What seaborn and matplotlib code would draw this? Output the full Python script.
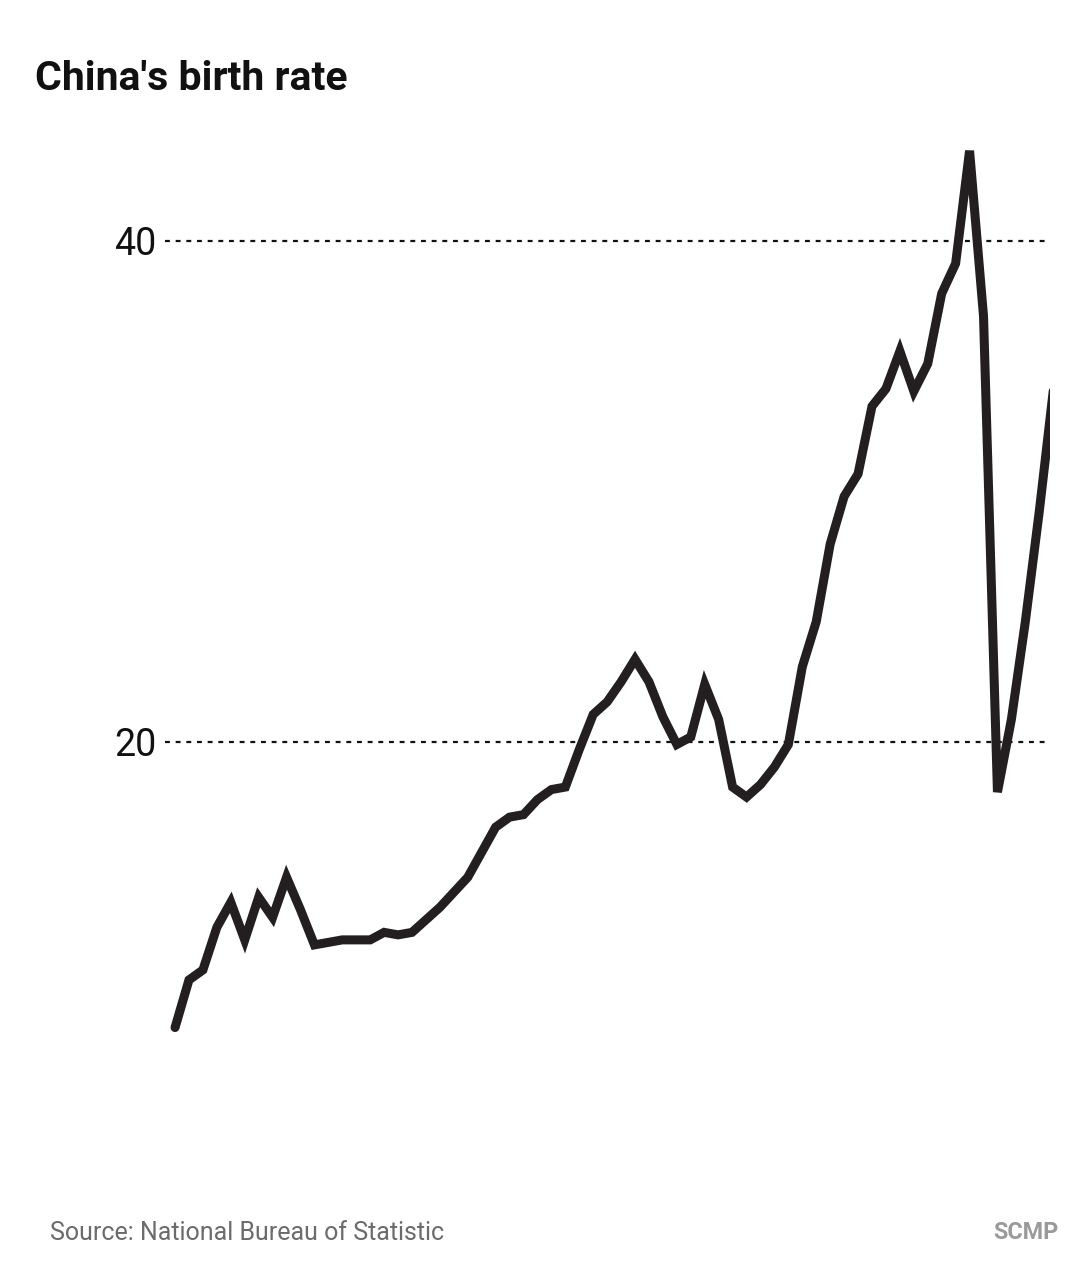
import pandas as pd
import seaborn as sns
import matplotlib.pyplot as plt

# birth rate per 1,000 people (right edge = 1957, left = 2020)
years = list(range(1957, 2021))
rates = [34.0, 29.2, 24.8, 20.9, 18.0, 37.0, 43.6, 39.1, 37.9, 35.1,
         34.0, 35.6, 34.1, 33.4, 30.7, 29.8, 27.9, 24.8, 23.0, 19.9,
         19.0, 18.3, 17.8, 18.2, 20.9, 22.3, 20.2, 19.9, 21.0, 22.4,
         23.3, 22.4, 21.6, 21.1, 19.7, 18.2, 18.1, 17.7, 17.1, 17.0,
         16.6, 15.6, 14.6, 14.0, 13.4, 12.9, 12.4, 12.3, 12.4, 12.1,
         12.1, 12.1, 12.0, 11.9, 13.3, 14.6, 13.0, 13.8, 12.1, 13.6,
         12.6, 10.9, 10.5, 8.6]
grid_vals = [20, 40]

df = pd.DataFrame({"year": years, "rate": rates})

sns.set_style("white")
plt.rcParams["font.family"] = ["Roboto", "DejaVu Sans"]

fig = plt.figure(figsize=(10.8, 12.76), dpi=100)
ax = fig.add_axes([165 / 1080, 1 - 1243 / 1276, 885 / 1080, (1243 - 150) / 1276])

sns.lineplot(data=df, x="year", y="rate", ax=ax, color="#231f20", linewidth=6.5,
             solid_joinstyle="miter")

ax.set_xlim(2020.72, 1957.23)
ax.set_ylim(0, 43.63)
for v in grid_vals:
    ax.axhline(v, color="#111111", linewidth=1.6, linestyle=(0, (2.2, 2.6)), zorder=0)
ax.set_yticks(grid_vals)
ax.set_yticklabels([str(v) for v in grid_vals], fontsize=27, color="#111111")
ax.tick_params(axis="y", length=0, pad=6)
ax.set_xticks([])
ax.set_xlabel("")
ax.set_ylabel("")
sns.despine(ax=ax, left=True, bottom=True)

fig.text(35 / 1080, 1 - 90 / 1276, "China's birth rate", fontsize=29.5, fontweight="bold",
         color="#111111", va="baseline", ha="left")
fig.text(50 / 1080, 1 - 1240 / 1276, "Source: National Bureau of Statistic", fontsize=18,
         color="#6b6b6b", va="baseline", ha="left")
fig.text(1058 / 1080, 1 - 1239 / 1276, "SCMP", fontsize=16.8, fontweight="bold",
         color="#9a9a9a", va="baseline", ha="right")

fig.savefig("out.png", dpi=100)
